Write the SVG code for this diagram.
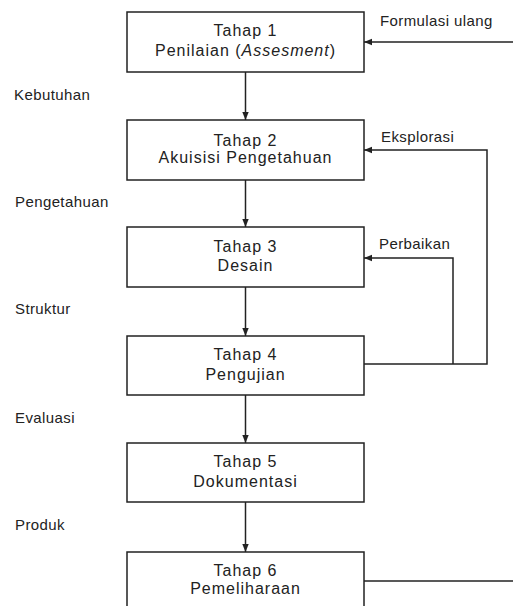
<svg xmlns="http://www.w3.org/2000/svg" width="513" height="606" viewBox="0 0 513 606">
<defs>
<style>
.box{fill:#fff;stroke:#222;stroke-width:1.5}
.t{font-family:"Liberation Sans",Arial,sans-serif;font-size:16px;letter-spacing:1px;fill:#222;text-anchor:middle}
.l{font-family:"Liberation Sans",Arial,sans-serif;font-size:15px;letter-spacing:0.4px;fill:#222}
.c{fill:none;stroke:#222;stroke-width:1.5}
</style>
<marker id="ah" viewBox="0 0 10 10" refX="10" refY="5" markerWidth="8" markerHeight="8" markerUnits="userSpaceOnUse" orient="auto">
<path d="M0,1 L10,5 L0,9 Z" fill="#222"/>
</marker>
</defs>
<rect width="513" height="606" fill="#fff"/>
<g id="connectors">
<line class="c" x1="245.5" y1="72" x2="245.5" y2="120" marker-end="url(#ah)"/>
<line class="c" x1="245.5" y1="180" x2="245.5" y2="227" marker-end="url(#ah)"/>
<line class="c" x1="245.5" y1="287" x2="245.5" y2="336" marker-end="url(#ah)"/>
<line class="c" x1="245.5" y1="395" x2="245.5" y2="443" marker-end="url(#ah)"/>
<line class="c" x1="245.5" y1="502" x2="245.5" y2="552" marker-end="url(#ah)"/>
<line class="c" x1="513" y1="42" x2="364" y2="42" marker-end="url(#ah)"/>
<polyline class="c" points="364,364 487,364 487,150 364,150" marker-end="url(#ah)"/>
<polyline class="c" points="453,364 453,258 364,258" marker-end="url(#ah)"/>
<line class="c" x1="364" y1="581" x2="513" y2="581"/>
</g>
<g id="tahap1">
<rect class="box" x="127" y="12" width="237" height="60"/>
<text class="t" x="245.5" y="36">Tahap 1</text>
<text class="t" x="245.5" y="56">Penilaian (<tspan font-style="italic">Assesment</tspan>)</text>
</g>
<g id="tahap2">
<rect class="box" x="127" y="120" width="237" height="60"/>
<text class="t" x="245.5" y="146">Tahap 2</text>
<text class="t" x="245.5" y="163">Akuisisi Pengetahuan</text>
</g>
<g id="tahap3">
<rect class="box" x="127" y="227" width="237" height="60"/>
<text class="t" x="245.5" y="252">Tahap 3</text>
<text class="t" x="245.5" y="271">Desain</text>
</g>
<g id="tahap4">
<rect class="box" x="127" y="336" width="237" height="59"/>
<text class="t" x="245.5" y="360">Tahap 4</text>
<text class="t" x="245.5" y="380">Pengujian</text>
</g>
<g id="tahap5">
<rect class="box" x="127" y="443" width="237" height="59"/>
<text class="t" x="245.5" y="467">Tahap 5</text>
<text class="t" x="245.5" y="487">Dokumentasi</text>
</g>
<g id="tahap6">
<rect class="box" x="127" y="552" width="237" height="62"/>
<text class="t" x="245.5" y="576">Tahap 6</text>
<text class="t" x="245.5" y="594">Pemeliharaan</text>
</g>
<g id="labels">
<text class="l" x="14" y="100">Kebutuhan</text>
<text class="l" x="15" y="207">Pengetahuan</text>
<text class="l" x="15" y="314">Struktur</text>
<text class="l" x="15" y="423">Evaluasi</text>
<text class="l" x="15" y="530">Produk</text>
<text class="l" x="380" y="26">Formulasi ulang</text>
<text class="l" x="381" y="142">Eksplorasi</text>
<text class="l" x="379" y="249">Perbaikan</text>
</g>
</svg>
